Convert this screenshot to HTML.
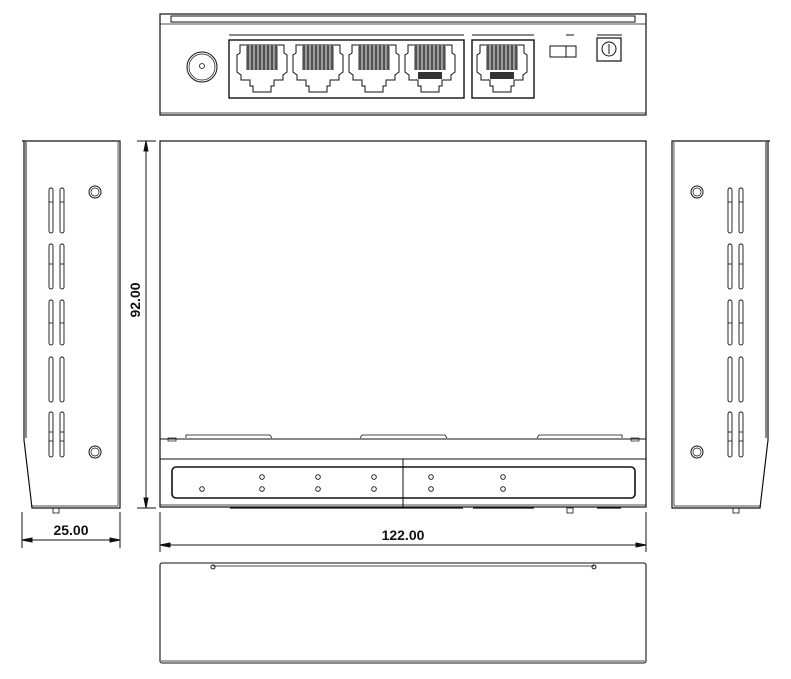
<!DOCTYPE html>
<html><head><meta charset="utf-8"><style>
html,body{margin:0;padding:0;background:#fff;}
svg{display:block;}
text{font-family:"Liberation Sans",Arial,sans-serif;font-weight:bold;fill:#111;}
</style></head><body>
<svg width="791" height="679" viewBox="0 0 791 679" xmlns="http://www.w3.org/2000/svg">
<defs>
<g id="port">
  <path d="M3,0 H47 V8 L50,10 V27 L46,30 V35 H37 V41 H34 V47 H16 V41 H13 V35 H4 V30 L0,27 V10 L3,8 Z" fill="#fff" stroke="#111" stroke-width="1"/>
  <rect x="9" y="0" width="32" height="25" fill="#999"/>
  <g stroke="#222" stroke-width="1.2">
    <line x1="11" y1="0" x2="11" y2="25"/><line x1="15" y1="0" x2="15" y2="25"/>
    <line x1="19" y1="0" x2="19" y2="25"/><line x1="23" y1="0" x2="23" y2="25"/>
    <line x1="27" y1="0" x2="27" y2="25"/><line x1="31" y1="0" x2="31" y2="25"/>
    <line x1="35" y1="0" x2="35" y2="25"/><line x1="39" y1="0" x2="39" y2="25"/>
  </g>
</g>
<g id="slot"><rect x="-2" y="0" width="4" height="45" rx="2" fill="none" stroke="#111" stroke-width="0.9"/></g>
<g id="side">
  <path d="M22,141 H120 V508 H32 L24,440 V141" fill="none" stroke="#111" stroke-width="1.2"/>
  <line x1="26" y1="142" x2="26" y2="438" stroke="#111" stroke-width="1"/>
  <line x1="118" y1="142" x2="118" y2="506" stroke="#111" stroke-width="0.7"/>
  <line x1="31" y1="506" x2="118" y2="506" stroke="#111" stroke-width="0.8"/>
  <rect x="53" y="508" width="6" height="5" fill="none" stroke="#111" stroke-width="0.8"/>
  <circle cx="95" cy="192" r="6" fill="none" stroke="#111"/><circle cx="95" cy="192" r="4" fill="none" stroke="#111" stroke-width="0.7"/>
  <circle cx="95" cy="452" r="6" fill="none" stroke="#111"/><circle cx="95" cy="452" r="4" fill="none" stroke="#111" stroke-width="0.7"/>
  <g>
    <use href="#slot" x="51" y="188"/><use href="#slot" x="62" y="188"/>
    <use href="#slot" x="51" y="244"/><use href="#slot" x="62" y="244"/>
    <use href="#slot" x="51" y="300"/><use href="#slot" x="62" y="300"/>
    <use href="#slot" x="51" y="357"/><use href="#slot" x="62" y="357"/>
    <use href="#slot" x="51" y="412"/><use href="#slot" x="62" y="412"/>
  </g>
  <g stroke="#111" stroke-width="0.8">
    <line x1="49" y1="202" x2="53" y2="202"/><line x1="60" y1="202" x2="64" y2="202"/>
    <line x1="49" y1="264" x2="53" y2="264"/><line x1="60" y1="264" x2="64" y2="264"/>
    <line x1="49" y1="323" x2="53" y2="323"/><line x1="60" y1="323" x2="64" y2="323"/>
    <line x1="49" y1="432" x2="53" y2="432"/><line x1="60" y1="432" x2="64" y2="432"/>
    <line x1="49" y1="441" x2="53" y2="441"/><line x1="60" y1="441" x2="64" y2="441"/>
  </g>
</g>
</defs>

<!-- TOP: rear view -->
<rect x="160" y="14" width="486" height="101" fill="none" stroke="#111" stroke-width="1.2"/>
<rect x="171" y="16" width="464" height="6" fill="none" stroke="#111" stroke-width="1"/>
<line x1="160" y1="24" x2="646" y2="24" stroke="#111" stroke-width="0.8"/>
<line x1="160" y1="113" x2="646" y2="113" stroke="#111" stroke-width="0.8"/>
<circle cx="202" cy="67" r="15" fill="none" stroke="#111"/>
<circle cx="202" cy="67" r="13" fill="none" stroke="#111" stroke-width="0.7"/>
<circle cx="202" cy="66" r="2.5" fill="none" stroke="#111" stroke-width="0.8"/>
<line x1="229" y1="35" x2="464" y2="35" stroke="#111" stroke-width="1"/>
<rect x="229" y="40" width="235" height="58" fill="none" stroke="#111" stroke-width="1.4"/>
<line x1="472" y1="35" x2="534" y2="35" stroke="#111" stroke-width="1"/>
<rect x="472" y="40" width="62" height="58" fill="none" stroke="#111" stroke-width="1.4"/>
<use href="#port" x="237" y="45"/>
<use href="#port" x="293" y="45"/>
<use href="#port" x="349" y="45"/>
<use href="#port" x="405" y="45"/>
<use href="#port" x="477" y="45"/>
<rect x="418" y="72" width="24" height="7" fill="#333"/>
<rect x="490" y="72" width="24" height="7" fill="#333"/>
<line x1="566" y1="35" x2="574" y2="35" stroke="#111"/>
<rect x="550" y="46" width="26" height="11" fill="none" stroke="#111"/>
<line x1="566" y1="46" x2="566" y2="57" stroke="#111"/>
<line x1="597" y1="35" x2="622" y2="35" stroke="#111"/>
<rect x="597" y="38" width="24" height="23" fill="none" stroke="#111" stroke-width="1.2"/>
<circle cx="609" cy="49" r="7" fill="none" stroke="#111"/>
<line x1="609" y1="44" x2="609" y2="54" stroke="#111"/>

<!-- MAIN top view -->
<rect x="160" y="141" width="486" height="366" fill="none" stroke="#111" stroke-width="1.2"/>
<line x1="160" y1="439" x2="646" y2="439" stroke="#111" stroke-width="1"/>
<path d="M186,438 L186,435 H270 L272,438 M360,438 L362,435 H445 L447,438 M537,438 L539,435 H622 V438" fill="none" stroke="#111" stroke-width="0.8"/>
<rect x="168" y="438" width="8" height="3" fill="none" stroke="#111" stroke-width="0.7"/>
<rect x="631" y="438" width="8" height="3" fill="none" stroke="#111" stroke-width="0.7"/>
<line x1="160" y1="459" x2="646" y2="459" stroke="#111" stroke-width="1"/>
<rect x="172" y="467" width="463" height="31" rx="4" fill="none" stroke="#111" stroke-width="1.6"/>
<line x1="403" y1="459" x2="403" y2="507" stroke="#111" stroke-width="1"/>
<line x1="160" y1="505" x2="646" y2="505" stroke="#111" stroke-width="0.7"/>
<line x1="230" y1="508" x2="463" y2="508" stroke="#111" stroke-width="1.2"/>
<line x1="473" y1="508" x2="534" y2="508" stroke="#111" stroke-width="1.2"/>
<line x1="597" y1="508" x2="621" y2="508" stroke="#111" stroke-width="1.2"/>
<rect x="567" y="508" width="6" height="5" fill="none" stroke="#111" stroke-width="0.8"/>
<g fill="none" stroke="#111" stroke-width="0.9">
  <circle cx="202" cy="489" r="2.3"/>
  <circle cx="262" cy="477" r="2.3"/><circle cx="262" cy="489" r="2.3"/>
  <circle cx="318" cy="477" r="2.3"/><circle cx="318" cy="489" r="2.3"/>
  <circle cx="374" cy="477" r="2.3"/><circle cx="374" cy="489" r="2.3"/>
  <circle cx="431" cy="477" r="2.3"/><circle cx="431" cy="489" r="2.3"/>
  <circle cx="503" cy="477" r="2.3"/><circle cx="503" cy="489" r="2.3"/>
</g>

<!-- side views -->
<use href="#side"/>
<use href="#side" transform="matrix(-1,0,0,1,792,0)"/>

<!-- dimension 92.00 -->
<g stroke="#111" stroke-width="1" fill="#111">
  <line x1="137" y1="141" x2="156" y2="141"/>
  <line x1="137" y1="508" x2="156" y2="508"/>
  <line x1="146" y1="141" x2="146" y2="508"/>
  <path d="M146,141 L144,151 L148,151 Z"/>
  <path d="M146,508 L144,498 L148,498 Z"/>
  <!-- 25.00 -->
  <line x1="22" y1="512" x2="22" y2="548"/>
  <line x1="120" y1="512" x2="120" y2="548"/>
  <line x1="22" y1="540" x2="120" y2="540"/>
  <path d="M22,540 L32,538 L32,542 Z"/>
  <path d="M120,540 L110,538 L110,542 Z"/>
  <!-- 122.00 -->
  <line x1="160" y1="512" x2="160" y2="552"/>
  <line x1="646" y1="512" x2="646" y2="552"/>
  <line x1="160" y1="545" x2="646" y2="545"/>
  <path d="M160,545 L170,543 L170,547 Z"/>
  <path d="M646,545 L636,543 L636,547 Z"/>
</g>
<text x="0" y="0" font-size="14" text-anchor="middle" transform="translate(140,300) rotate(-90)">92.00</text>
<text x="71" y="535" font-size="14" text-anchor="middle">25.00</text>
<text x="403" y="540" font-size="14" text-anchor="middle">122.00</text>

<!-- BOTTOM view -->
<rect x="160" y="563" width="486" height="100" rx="2" fill="none" stroke="#111" stroke-width="1.1"/>
<line x1="213" y1="566" x2="594" y2="566" stroke="#888" stroke-width="1.5"/>
<line x1="160" y1="661" x2="646" y2="661" stroke="#888" stroke-width="1.5"/>
<circle cx="213" cy="567" r="2" fill="none" stroke="#111"/>
<circle cx="594" cy="567" r="2" fill="none" stroke="#111"/>
</svg>
</body></html>
